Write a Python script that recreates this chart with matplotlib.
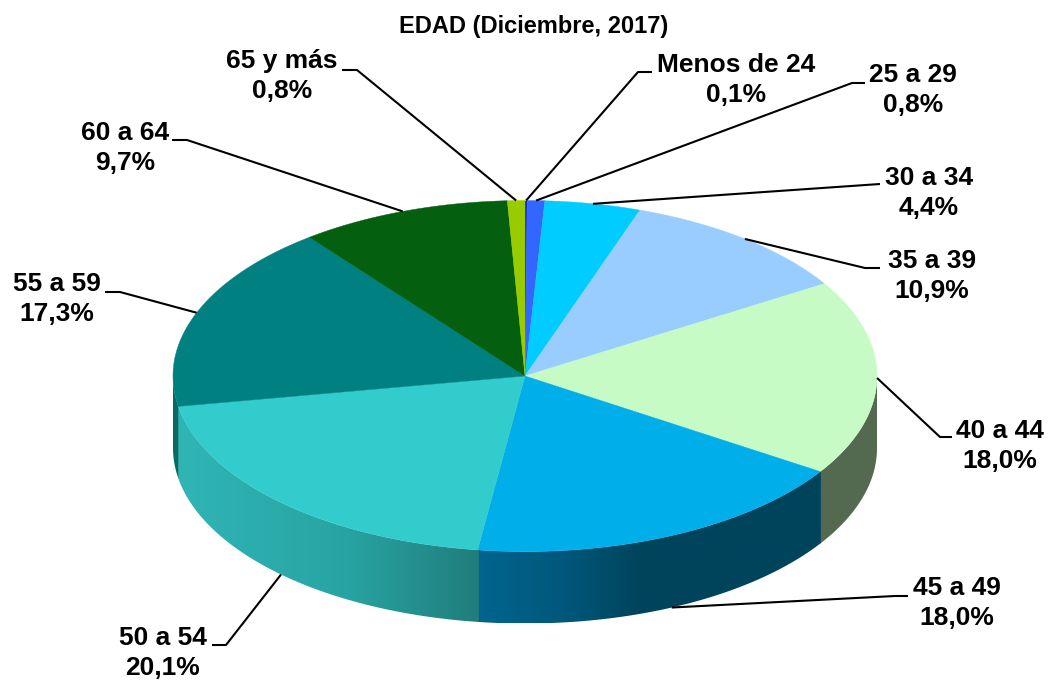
import numpy as np
import matplotlib
matplotlib.use("Agg")
import matplotlib.pyplot as plt
from matplotlib.colors import to_rgb
from matplotlib.patches import Polygon

labels = ["Menos de 24", "25 a 29", "30 a 34", "35 a 39", "40 a 44",
          "45 a 49", "50 a 54", "55 a 59", "60 a 64", "65 y más"]
values = [0.1, 0.8, 4.4, 10.9, 18.0, 18.0, 20.1, 17.3, 9.7, 0.8]
title = "EDAD (Diciembre, 2017)"

top_colors = ["#0a1ee0", "#3366ff", "#00ccff", "#99ccff", "#c6fbc6",
              "#00aeea", "#33cccc", "#008080", "#04600e", "#99cc00"]
# side colour stops: (pixel x, colour)
side_stops = {
    4: [(820, "#546a50"), (877, "#546a50")],
    5: [(477, "#00658f"), (560, "#00587c"), (640, "#00445c"), (820, "#00445c")],
    6: [(177, "#30b5b5"), (350, "#28a3a3"), (420, "#248f8d"), (477, "#207e7c")],
    7: [(173, "#006e68"), (178, "#006e68")],
}

# pie geometry in pixels
cx, cy = 525, 376
rx, ry = 352, 175.5
depth = 72

# label centre, then elbow and end of the leader
label_pos = [(736, 80), (913, 90), (929, 193), (932, 276), (1000, 446),
             (957, 603), (163, 653), (57, 299), (125, 148), (282, 76)]
leader_pts = [[(638, 72), (652, 72)], [(852, 83), (865, 83)], [(880, 184)],
              [(865, 268), (880, 268)], [(940, 437), (952, 437)],
              [(895, 596), (908, 596)], [(226, 645), (212, 645)],
              [(120, 292), (105, 292)], [(187, 140), (172, 140)],
              [(357, 70), (342, 70)]]


def edge(theta, drop=0):
    # theta in degrees, clockwise from the top
    t = np.radians(theta)
    return cx + rx * np.sin(t), cy - ry * np.cos(t) + drop


def side_color(i, x):
    stops = side_stops[i]
    xs = [s[0] for s in stops]
    rgb = np.array([to_rgb(s[1]) for s in stops])
    return np.stack([np.interp(x, xs, rgb[:, k]) for k in range(3)], axis=-1)


plt.rcParams["font.family"] = ["Liberation Sans", "DejaVu Sans"]
fig = plt.figure(figsize=(10.5, 6.8), dpi=100)
ax = fig.add_axes([0, 0, 1, 1])

bounds = np.cumsum([0] + values) / sum(values) * 360

# side wall: a horizontal gradient clipped to the visible band of each wedge
# bands overlap a little so no white seam shows between them
for i in side_stops:
    th = np.linspace(max(bounds[i] - 0.2, 90), min(bounds[i + 1], 270), 200)
    xs, ys = edge(th)
    band = np.c_[np.r_[xs, xs[::-1]], np.r_[ys, ys[::-1] + depth]]
    xmin, xmax = band[:, 0].min(), band[:, 0].max()
    ymin, ymax = band[:, 1].min(), band[:, 1].max()
    grad = side_color(i, np.linspace(xmin, xmax, 300))[np.newaxis, :, :]
    im = ax.imshow(grad, extent=(xmin, xmax, ymax, ymin), aspect="auto",
                   interpolation="bilinear", zorder=1)
    clip = Polygon(band, closed=True, transform=ax.transData, fc="none", ec="none")
    ax.add_patch(clip)
    im.set_clip_path(clip)

ax.set_xlim(0, 1050)
ax.set_ylim(680, 0)
ax.axis("off")

# top face
for i in range(len(values)):
    th = np.linspace(bounds[i], bounds[i + 1], 100)
    xs, ys = edge(th)
    ax.fill(np.r_[cx, xs], np.r_[cy, ys], color=top_colors[i], lw=0.3, zorder=2)

# leaders and labels
for i, name in enumerate(labels):
    mid = (bounds[i] + bounds[i + 1]) / 2
    drop = depth if 115 < mid < 250 else 0
    x0, y0 = edge(mid, drop)
    pts = [(x0, y0)] + leader_pts[i]
    ax.plot([p[0] for p in pts], [p[1] for p in pts], color="black", lw=1.5,
            solid_capstyle="butt", zorder=3)
    txt = f"{name}\n{values[i]:.1f}%".replace(".", ",")
    ax.text(label_pos[i][0], label_pos[i][1], txt, ha="center", va="center",
            fontsize=19, fontweight="bold", linespacing=1.32, zorder=4)

ax.text(534, 26, title, ha="center", va="center", fontsize=17, fontweight="bold")

fig.savefig("out.png", dpi=100)
